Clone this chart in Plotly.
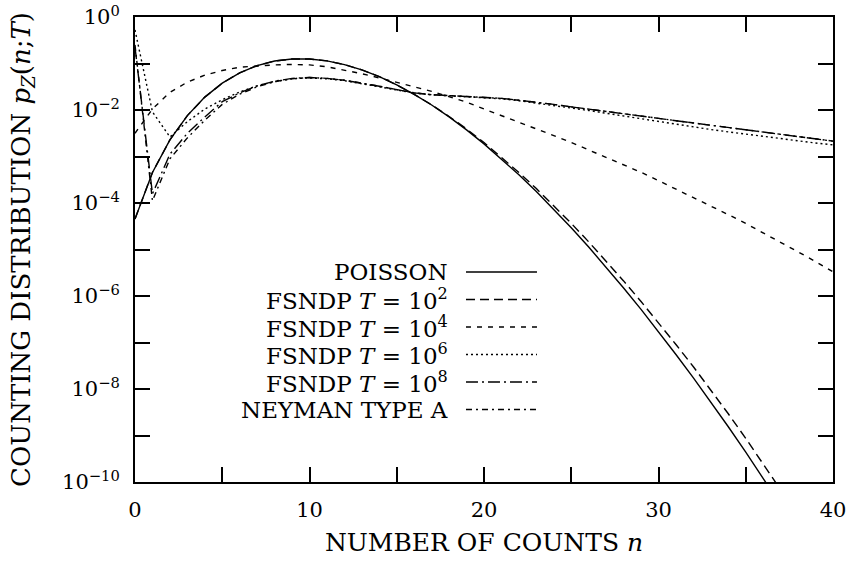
import plotly.graph_objects as go

# number of counts n
n = list(range(41))

# POISSON (n = 0..38)
poisson = [4.54e-5, 4.54e-4, 2.27e-3, 7.57e-3, 1.89e-2, 3.78e-2, 6.31e-2, 9.01e-2,
           1.13e-1, 1.25e-1, 1.25e-1, 1.14e-1, 9.48e-2, 7.29e-2, 5.21e-2, 3.47e-2,
           2.17e-2, 1.28e-2, 7.09e-3, 3.73e-3, 1.87e-3, 8.89e-4, 4.04e-4, 1.76e-4,
           7.32e-5, 2.93e-5, 1.13e-5, 4.18e-6, 1.49e-6, 5.15e-7, 1.72e-7, 5.53e-8,
           1.73e-8, 5.24e-9, 1.54e-9, 4.40e-10, 1.22e-10, 3.30e-11, 8.70e-12]

# FSNDP T = 10^2 (n = 0..38)
fsndp_t2 = [4.54e-5, 4.54e-4, 2.27e-3, 7.57e-3, 1.89e-2, 3.78e-2, 6.31e-2, 9.01e-2,
            1.13e-1, 1.25e-1, 1.25e-1, 1.14e-1, 9.48e-2, 7.29e-2, 5.21e-2, 3.47e-2,
            2.17e-2, 1.29e-2, 7.25e-3, 3.91e-3, 2.00e-3, 9.74e-4, 4.53e-4, 2.04e-4,
            8.80e-5, 3.65e-5, 1.46e-5, 5.64e-6, 2.11e-6, 7.62e-7, 2.66e-7, 9.07e-8,
            3.01e-8, 9.54e-9, 2.93e-9, 8.68e-10, 2.49e-10, 6.97e-11, 1.90e-11]

# FSNDP T = 10^4 (n = 0..40)
fsndp_t4 = [3.16e-3, 1.05e-2, 2.40e-2, 3.98e-2, 5.62e-2, 7.08e-2, 8.32e-2, 8.91e-2,
            9.33e-2, 9.55e-2, 9.33e-2, 8.51e-2, 7.24e-2, 6.03e-2, 4.90e-2, 3.98e-2,
            3.16e-2, 2.51e-2, 1.95e-2, 1.48e-2, 1.05e-2, 7.59e-3, 5.62e-3, 3.98e-3,
            2.82e-3, 2.00e-3, 1.38e-3, 9.55e-4, 6.61e-4, 4.57e-4, 3.02e-4, 2.00e-4,
            1.32e-4, 8.71e-5, 5.62e-5, 3.63e-5, 2.29e-5, 1.45e-5, 8.91e-6, 5.50e-6,
            3.31e-6]

# FSNDP T = 10^6 (n = 0..40)
fsndp_t6 = [5.25e-1, 9.12e-3, 2.63e-3, 5.62e-3, 1.05e-2, 1.66e-2, 2.45e-2, 3.31e-2,
            4.07e-2, 4.68e-2, 4.90e-2, 4.68e-2, 4.27e-2, 3.72e-2, 3.16e-2, 2.69e-2,
            2.32e-2, 2.11e-2, 2.02e-2, 1.95e-2, 1.86e-2, 1.74e-2, 1.58e-2, 1.41e-2,
            1.26e-2, 1.12e-2, 9.77e-3, 8.51e-3, 7.41e-3, 6.46e-3, 5.62e-3, 4.90e-3,
            4.37e-3, 3.80e-3, 3.39e-3, 3.02e-3, 2.69e-3, 2.40e-3, 2.19e-3, 1.95e-3,
            1.78e-3]

# FSNDP T = 10^8 (n = 0..40)
fsndp_t8 = [2.24e-1, 1.58e-4, 1.12e-3, 3.16e-3, 7.08e-3, 1.51e-2, 2.34e-2, 3.31e-2,
            4.17e-2, 4.79e-2, 5.01e-2, 4.79e-2, 4.37e-2, 3.80e-2, 3.24e-2, 2.75e-2,
            2.34e-2, 2.14e-2, 2.04e-2, 2.00e-2, 1.91e-2, 1.78e-2, 1.62e-2, 1.48e-2,
            1.32e-2, 1.17e-2, 1.05e-2, 9.33e-3, 8.32e-3, 7.41e-3, 6.61e-3, 5.89e-3,
            5.25e-3, 4.68e-3, 4.17e-3, 3.72e-3, 3.31e-3, 2.95e-3, 2.63e-3, 2.34e-3,
            2.14e-3]

# NEYMAN TYPE A (n = 0..40)
neyman = [2.51e-1, 1.12e-4, 8.91e-4, 2.51e-3, 6.03e-3, 1.32e-2, 2.19e-2, 3.16e-2,
          4.07e-2, 4.68e-2, 5.01e-2, 4.79e-2, 4.37e-2, 3.80e-2, 3.24e-2, 2.75e-2,
          2.34e-2, 2.14e-2, 2.04e-2, 2.00e-2, 1.91e-2, 1.78e-2, 1.62e-2, 1.48e-2,
          1.32e-2, 1.17e-2, 1.05e-2, 9.33e-3, 8.32e-3, 7.41e-3, 6.61e-3, 5.89e-3,
          5.25e-3, 4.68e-3, 4.17e-3, 3.72e-3, 3.31e-3, 2.95e-3, 2.63e-3, 2.34e-3,
          2.14e-3]

legend_labels = ["POISSON",
                 "FSNDP <i>T</i> = 10<sup>2</sup>",
                 "FSNDP <i>T</i> = 10<sup>4</sup>",
                 "FSNDP <i>T</i> = 10<sup>6</sup>",
                 "FSNDP <i>T</i> = 10<sup>8</sup>",
                 "NEYMAN TYPE A"]

x_tickvals = [0, 10, 20, 30, 40]
x_ticktext = ["0", "10", "20", "30", "40"]
x_minor_ticks = [5, 15, 25, 35]
y_tickvals = [1e0, 1e-2, 1e-4, 1e-6, 1e-8, 1e-10]
y_ticktext = ["10<sup>0</sup>", "10<sup>\u22122</sup>", "10<sup>\u22124</sup>",
              "10<sup>\u22126</sup>", "10<sup>\u22128</sup>", "10<sup>\u221210</sup>"]
y_minor_ticks = [1e-1, 1e-3, 1e-5, 1e-7, 1e-9]

series = [poisson, fsndp_t2, fsndp_t4, fsndp_t6, fsndp_t8, neyman]
dashes = ["solid", "9px,5px", "5px,6px", "2px,3px", "12px,4px,2px,4px", "6px,4px,2px,4px"]

FONT = "DejaVu Serif"
fig = go.Figure()
for vals, dash in zip(series, dashes):
    fig.add_trace(go.Scatter(x=n[:len(vals)], y=vals, mode="lines",
                             line=dict(color="black", width=1.4, dash=dash),
                             showlegend=False, hoverinfo="skip"))

# legend drawn as text + line samples (text left of the sample, as in the original)
row_y = [0.4516, 0.3925, 0.3333, 0.2742, 0.2151, 0.1559]
for lab, dash, yy in zip(legend_labels, dashes, row_y):
    fig.add_annotation(xref="paper", yref="paper", x=0.4513, y=yy, text=lab,
                       showarrow=False, xanchor="right", yanchor="middle",
                       font=dict(family=FONT, size=23, color="black"))
    fig.add_shape(type="line", xref="paper", yref="paper",
                  x0=0.4742, x1=0.5759, y0=yy, y1=yy,
                  line=dict(color="black", width=1.4, dash=dash))

axis_common = dict(showline=True, linecolor="black", linewidth=2, mirror="allticks",
                   ticks="inside", ticklen=15, tickwidth=1.5, tickcolor="black",
                   showgrid=False, zeroline=False,
                   tickfont=dict(family=FONT, size=21, color="black"))

fig.update_xaxes(range=[0, 40], tickmode="array", tickvals=x_tickvals, ticktext=x_ticktext,
                 minor=dict(tickmode="array", tickvals=x_minor_ticks, ticks="inside",
                            ticklen=15, tickwidth=1.5, tickcolor="black", showgrid=False),
                 automargin="bottom", ticklabelstandoff=8,
                 title=dict(text="NUMBER OF COUNTS <i>n</i>",
                            font=dict(family=FONT, size=25, color="black"), standoff=12),
                 **axis_common)
fig.update_yaxes(type="log", range=[-10, 0], tickmode="array", tickvals=y_tickvals,
                 ticktext=y_ticktext,
                 minor=dict(tickmode="array", tickvals=y_minor_ticks, ticks="inside",
                            ticklen=15, tickwidth=1.5, tickcolor="black", showgrid=False),
                 ticklabelstandoff=9, automargin="left",
                 title=dict(text="COUNTING DISTRIBUTION <i>p</i><sub><i>Z</i></sub>(<i>n</i>;<i>T</i>)",
                            font=dict(family=FONT, size=26, color="black"), standoff=24),
                 **axis_common)

fig.update_layout(width=848, height=565, plot_bgcolor="white", paper_bgcolor="white",
                  margin=dict(l=135, r=15, t=17, b=83), showlegend=False)

fig.write_html("out.html", config={"displayModeBar": False},
               post_script="document.body.style.margin='0';")
